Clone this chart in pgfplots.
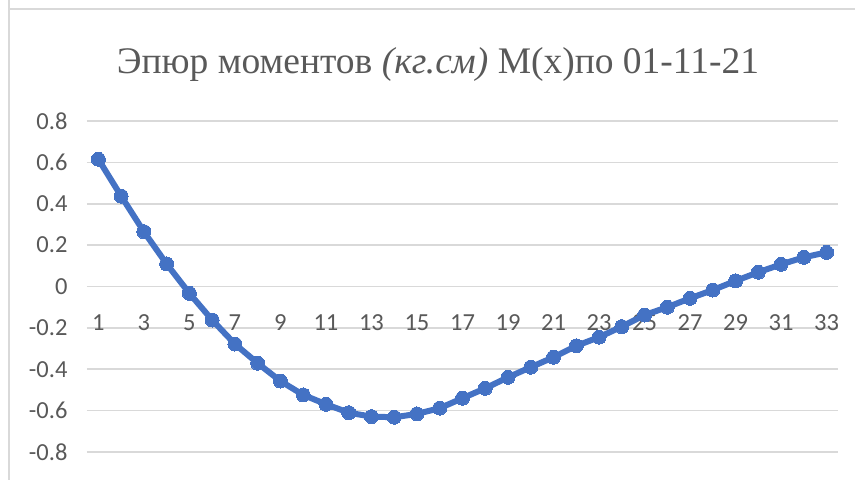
\documentclass[border=0pt]{standalone}
\usepackage{fontspec}
\setmainfont{Liberation Serif}
\newfontfamily\tickfont{Carlito}
\usepackage{pgfplots}
\pgfplotsset{compat=1.18}
\definecolor{linec}{HTML}{4472C4}
\definecolor{txtc}{HTML}{595959}
\definecolor{gridc}{HTML}{D9D9D9}
\begin{document}
\begin{tikzpicture}[x=1pt,y=1pt]
\path[use as bounding box] (0,0) rectangle (855,480);
\draw[gridc, line width=2pt] (9,480) -- (9,0);
\draw[gridc, line width=2pt] (9,471) -- (855,471);
\node[anchor=base, text=txtc, font=\fontsize{37.5}{37.5}\selectfont, inner sep=0pt] at (438,406) {Эпюр моментов \textit{(кг.см)} М(х)по 01-11-21};
\begin{axis}[
  at={(87pt,28pt)}, anchor=south west,
  scale only axis, width=751pt, height=331pt,
  xmin=0.5, xmax=33.5, ymin=-0.8, ymax=0.8,
  axis x line=middle, axis y line=left,
  axis line style={draw=none},
  major tick length=0pt,
  xtick={1,3,...,33},
  ytick={-0.8,-0.6,-0.4,-0.2,0,0.2,0.4,0.6,0.8},
  yticklabels={-0.8,-0.6,-0.4,-0.2,0,0.2,0.4,0.6,0.8},
  ymajorgrids, grid style={gridc, line width=1.6pt},
  /pgf/number format/assume math mode=true,
  ticklabel style={font=\tickfont\fontsize{24.5}{24.5}\selectfont, text=txtc},
  xticklabel style={anchor=north, yshift=-25pt},
  yticklabel style={anchor=east, xshift=-16pt},
  clip=false,
]
\addplot[color=linec, line width=6pt, mark=*, mark size=7pt, mark options={fill=linec, draw=linec, line width=0pt}] coordinates {
(1,0.615) (2,0.437) (3,0.265) (4,0.109) (5,-0.033) (6,-0.162) (7,-0.278) (8,-0.371)
(9,-0.457) (10,-0.524) (11,-0.569) (12,-0.61) (13,-0.629) (14,-0.632) (15,-0.616)
(16,-0.588) (17,-0.54) (18,-0.492) (19,-0.439) (20,-0.39) (21,-0.342) (22,-0.287)
(23,-0.245) (24,-0.194) (25,-0.138) (26,-0.10) (27,-0.057) (28,-0.017) (29,0.027)
(30,0.069) (31,0.107) (32,0.141) (33,0.165)
};
\end{axis}
\end{tikzpicture}
\end{document}
